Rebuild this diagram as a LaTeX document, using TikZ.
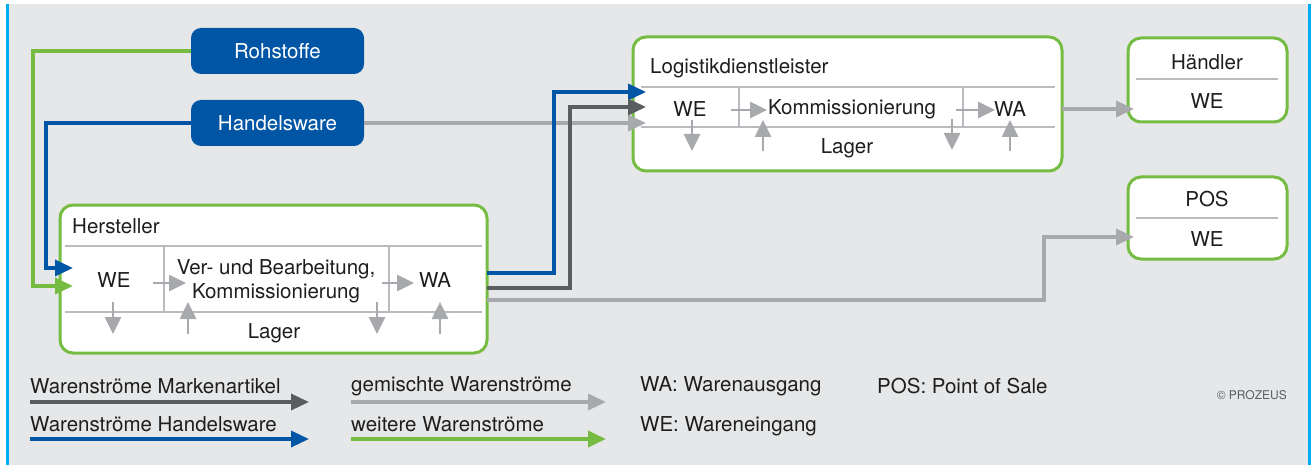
\documentclass[tikz,border=0pt]{standalone}
\usepackage{fontspec}
\setmainfont{TeX Gyre Heros}
\usetikzlibrary{arrows.meta}
\definecolor{blueC}{RGB}{0,85,165}
\definecolor{greenC}{RGB}{118,188,67}
\definecolor{dgrayC}{RGB}{91,92,94}
\definecolor{lgrayC}{RGB}{167,169,172}
\definecolor{sepC}{RGB}{185,187,190}
\definecolor{bgC}{RGB}{230,231,232}
\definecolor{cyanC}{RGB}{0,174,239}
\definecolor{txtC}{RGB}{30,30,30}
\tikzset{
  txt/.style={font=\fontsize{20.5}{24}\selectfont, text=txtC, inner sep=0pt},
  bigbox/.style={draw=greenC, line width=3pt, fill=white, rounded corners=13pt},
  srcbox/.style={fill=blueC, rounded corners=10pt, text=white, font=\fontsize{20.5}{24}\selectfont},
  sepline/.style={draw=sepC, line width=1.3pt},
  smallarr/.style={draw=lgrayC, line width=2.6pt, -{Triangle[length=17pt,width=16pt]}},
  conn/.style={line width=3.4pt, -{Triangle[length=18pt,width=16pt]}},
  connB/.style={conn, draw=blueC},
  connG/.style={conn, draw=greenC},
  connD/.style={conn, draw=dgrayC},
  connL/.style={conn, draw=lgrayC},
}
\begin{document}
\begin{tikzpicture}[x=1pt,y=-1pt]
\useasboundingbox (0,0) rectangle (1316,465);
% background and frame
\fill[white] (0,0) rectangle (1316,465);
\fill[bgC] (9,4) rectangle (1308,465);
\fill[cyanC] (6,4) rectangle (9,465);
\fill[cyanC] (1308,4) rectangle (1310.5,465);

% source boxes
\node[srcbox, minimum width=173pt, minimum height=46pt] (roh) at (277.5,51) {Rohstoffe};
\node[srcbox, minimum width=173pt, minimum height=46pt] (hw) at (277.5,123) {Handelsware};

% Hersteller
\node[bigbox, minimum width=427pt, minimum height=148pt] (herst) at (273.5,279) {};
\node[txt, anchor=west] (hT) at (72,226) {Hersteller};
\draw[sepline] (65,246) -- (482,246);
\draw[sepline] (65,312) -- (482,312);
\draw[sepline] (164,246) -- (164,312);
\draw[sepline] (389,246) -- (389,312);
\node[txt] (hWE) at (114,280) {WE};
\node[txt, align=center] (hVB) at (276,281) {Ver- und Bearbeitung,\\Kommissionierung};
\node[txt] (hWA) at (435,280) {WA};
\node[txt] (hL) at (274,333) {Lager};
\draw[smallarr] (153,283) -- (186,283);
\draw[smallarr] (382,283) -- (414,283);
\draw[smallarr] (113,302) -- (113,334);
\draw[smallarr] (188,334) -- (188,302);
\draw[smallarr] (377,302) -- (377,334);
\draw[smallarr] (440,334) -- (440,302);

% Logistikdienstleister
\node[bigbox, minimum width=429pt, minimum height=134pt] (log) at (847.5,104) {};
\node[txt, anchor=west] (lT) at (650,68) {Logistikdienstleister};
\draw[sepline] (641,87) -- (1055,87);
\draw[sepline] (641,127) -- (1055,127);
\draw[sepline] (739,87) -- (739,127);
\draw[sepline] (963,87) -- (963,127);
\node[txt] (lWE) at (690,109) {WE};
\node[txt] (lK) at (852,109) {Kommissionierung};
\node[txt] (lWA) at (1010,109) {WA};
\node[txt] (lL) at (847,148) {Lager};
\draw[smallarr] (731,110) -- (767,110);
\draw[smallarr] (956,110) -- (995,110);
\draw[smallarr] (692,120) -- (692,151);
\draw[smallarr] (763,151) -- (763,120);
\draw[smallarr] (952,119) -- (952,150);
\draw[smallarr] (1010,151) -- (1010,120);

% Haendler
\node[bigbox, minimum width=159pt, minimum height=84pt] (hae) at (1207.5,80) {};
\node[txt] (haeT) at (1207,62) {Händler};
\draw[sepline] (1136,79) -- (1278,79);
\node[txt] (haeWE) at (1207,101) {WE};

% POS
\node[bigbox, minimum width=159pt, minimum height=82pt] (pos) at (1207.5,218) {};
\node[txt] (posT) at (1207,199) {POS};
\draw[sepline] (1136,218) -- (1278,218);
\node[txt] (posWE) at (1207,239) {WE};

% connector end points
\coordinate (hinB) at (73,268);
\coordinate (hinG) at (73,286);
\coordinate (houtB) at (487,273);
\coordinate (houtD) at (487,288);
\coordinate (houtL) at (487,300);
\coordinate (linB) at (646,92);
\coordinate (linD) at (646,107);
\coordinate (linL) at (646,123);
\coordinate (lout) at (1062,109);
\coordinate (haeIn) at (1134,109);
\coordinate (posIn) at (1134,237);

% connectors
\draw[connG] (roh.west) -| ([xshift=-40pt]hinG) -- (hinG);
\draw[connB] (hw.west) -| ([xshift=-27pt]hinB) -- (hinB);
\draw[connL] (hw.east) -- (linL);
\draw[connB] (houtB) -| ([xshift=-92pt]linB) -- (linB);
\draw[connD] (houtD) -| ([xshift=-76pt]linD) -- (linD);
\draw[connL] (houtL) -| ([xshift=-90pt]posIn) -- (posIn);
\draw[connL] (lout) -- (haeIn);

% legend
\node[txt, anchor=west] (lg1) at (30,386) {Warenströme Markenartikel};
\node[txt, anchor=west] (lg2) at (30,424) {Warenströme Handelsware};
\node[txt, anchor=west] (lg3) at (351,386) {gemischte Warenströme};
\node[txt, anchor=west] (lg4) at (351,424) {weitere Warenströme};
\coordinate (a1s) at (30,402); \coordinate (a1e) at (309,402);
\coordinate (a2s) at (30,439); \coordinate (a2e) at (309,439);
\coordinate (a3s) at (351,402); \coordinate (a3e) at (606,402);
\coordinate (a4s) at (351,439); \coordinate (a4e) at (606,439);
\draw[connD] (a1s) -- (a1e);
\draw[connB] (a2s) -- (a2e);
\draw[connL] (a3s) -- (a3e);
\draw[connG] (a4s) -- (a4e);
\node[txt, anchor=west] (lgWA) at (640,386) {WA: Warenausgang};
\node[txt, anchor=west] (lgWE) at (640,426) {WE: Wareneingang};
\node[txt, anchor=west] (lgPOS) at (877,386) {POS: Point of Sale};
\node[txt, anchor=east, font=\fontsize{12}{14}\selectfont, text=dgrayC] (copy) at (1287,395) {© PROZEUS};
\end{tikzpicture}
\end{document}
